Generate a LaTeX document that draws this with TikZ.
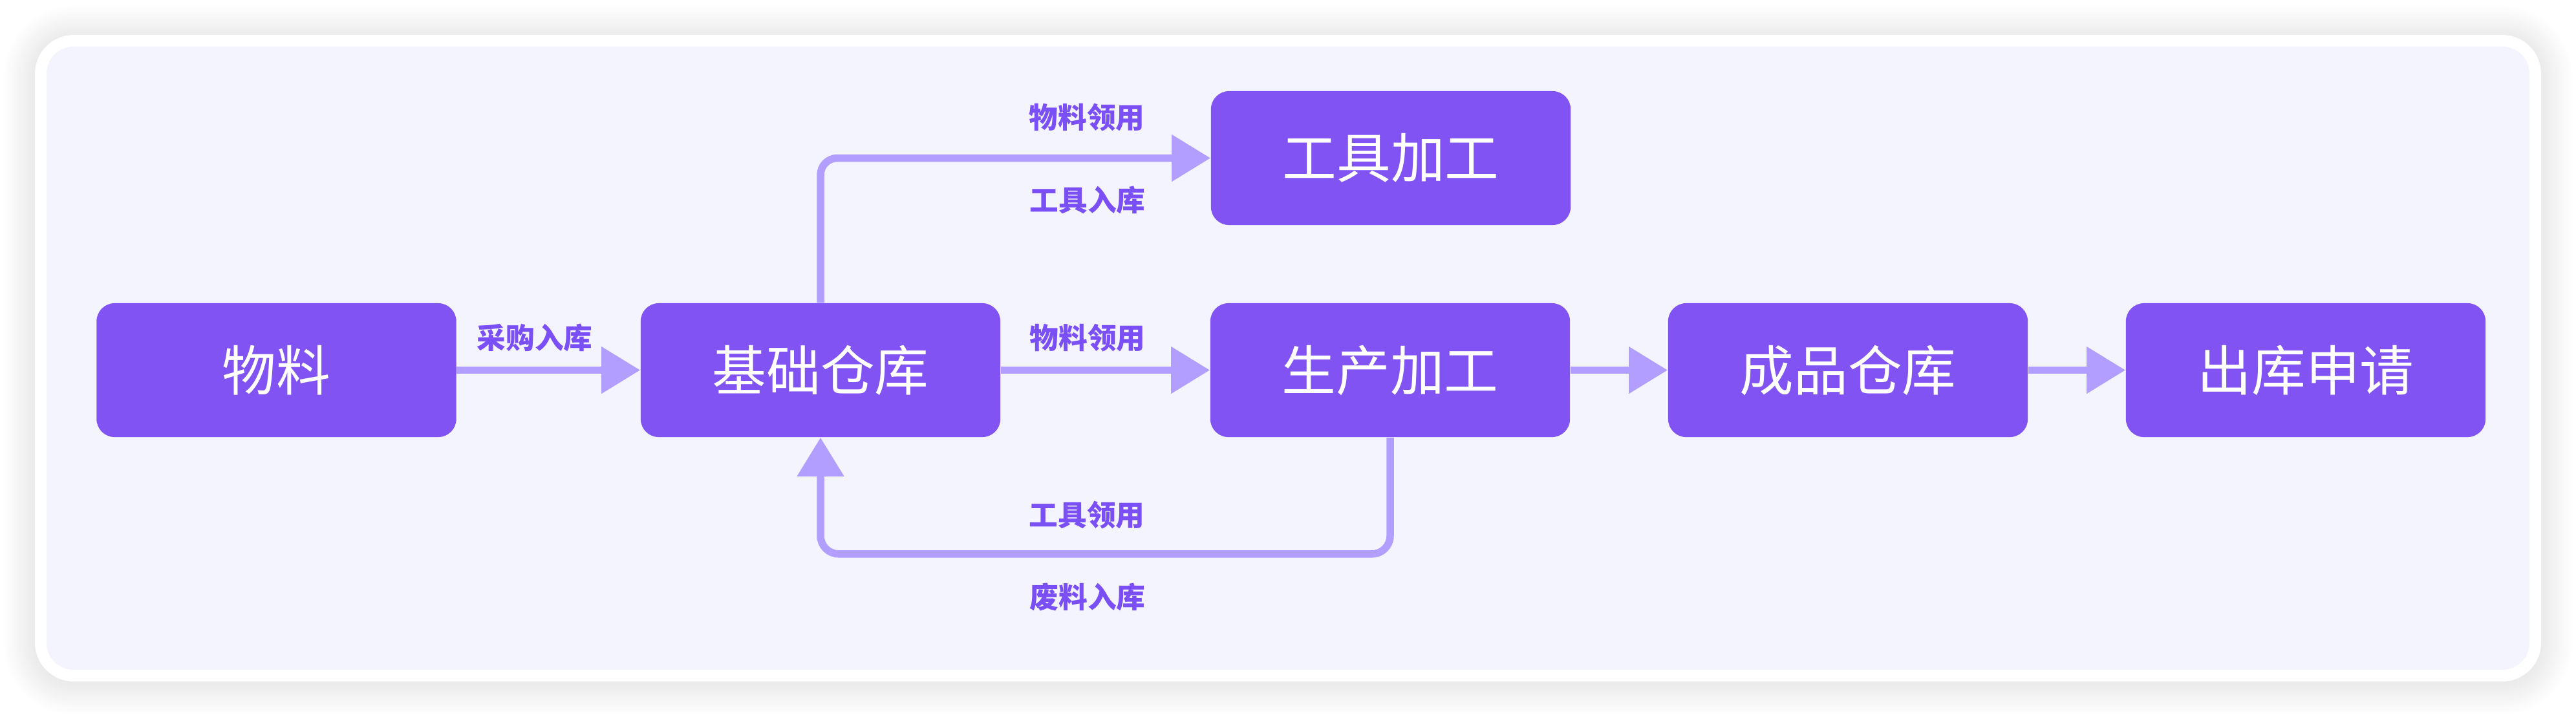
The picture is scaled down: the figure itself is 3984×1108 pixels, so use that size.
\documentclass[tikz,border=0pt]{standalone}
\usepackage{fontspec}
\newfontfamily\cjk{Noto Sans CJK SC}
\usetikzlibrary{arrows.meta}
\definecolor{bgc}{HTML}{F4F4FE}
\definecolor{nodec}{HTML}{8053F2}
\definecolor{arrc}{HTML}{B19EFE}
\definecolor{labc}{HTML}{7A4FF5}
\tikzset{
  box/.style={fill=nodec, rounded corners=0.28cm, minimum width=5.56cm, minimum height=2.07cm, inner sep=0pt,
    text=white, font=\cjk\fontsize{23.8pt}{26pt}\selectfont},
  lab/.style={text=labc, inner sep=0pt, font=\cjk\bfseries\fontsize{12.7pt}{14pt}\selectfont},
  arr/.style={draw=arrc, line width=0.115cm, -{Triangle[length=0.6cm,width=0.7cm]}}
}
\begin{document}
\begin{tikzpicture}[x=0.01cm,y=-0.01cm]
\useasboundingbox (0,0) rectangle (3984,1108);
\fill[white] (0,0) rectangle (3984,1108);
\foreach \i in {1,...,20}{
  \pgfmathsetmacro\e{\i*2.4}
  \pgfmathsetmacro\r{(60+\e)*0.01}
  \fill[black,opacity=0.005,rounded corners=\r cm] (54-\e,54-\e+3) rectangle (3930+\e,1054+\e+3);
}
\fill[white, rounded corners=0.6cm] (54,54) rectangle (3930,1054);
\fill[bgc, rounded corners=0.42cm] (72,72) rectangle (3912,1036);

\node[box] (wl) at (427.5,572.5) {物料};
\node[box] (jc) at (1269,572.5) {基础仓库};
\node[box] (gj) at (2151,244.5) {工具加工};
\node[box] (sc) at (2150,572.5) {生产加工};
\node[box] (cp) at (2858,572.5) {成品仓库};
\node[box] (ck) at (3566,572.5) {出库申请};

\draw[arr] (wl.east) -- (jc.west);
\draw[arr] (jc.east) -- (sc.west);
\draw[arr] (sc.east) -- (cp.west);
\draw[arr] (cp.east) -- (ck.west);
\draw[arr, rounded corners=0.26cm] (jc.north) |- (gj.west);
\draw[arr, rounded corners=0.28cm] (sc.south) -- ++(0,180) -| (jc.south);

\node[lab] (l1) at (827,522) {采购入库};
\node[lab] (l2) at (1682,523) {物料领用};
\node[lab] (l3) at (1681,182) {物料领用};
\node[lab] (l4) at (1682,309) {工具入库};
\node[lab] (l5) at (1681,797) {工具领用};
\node[lab] (l6) at (1682,923) {废料入库};
\end{tikzpicture}
\end{document}
